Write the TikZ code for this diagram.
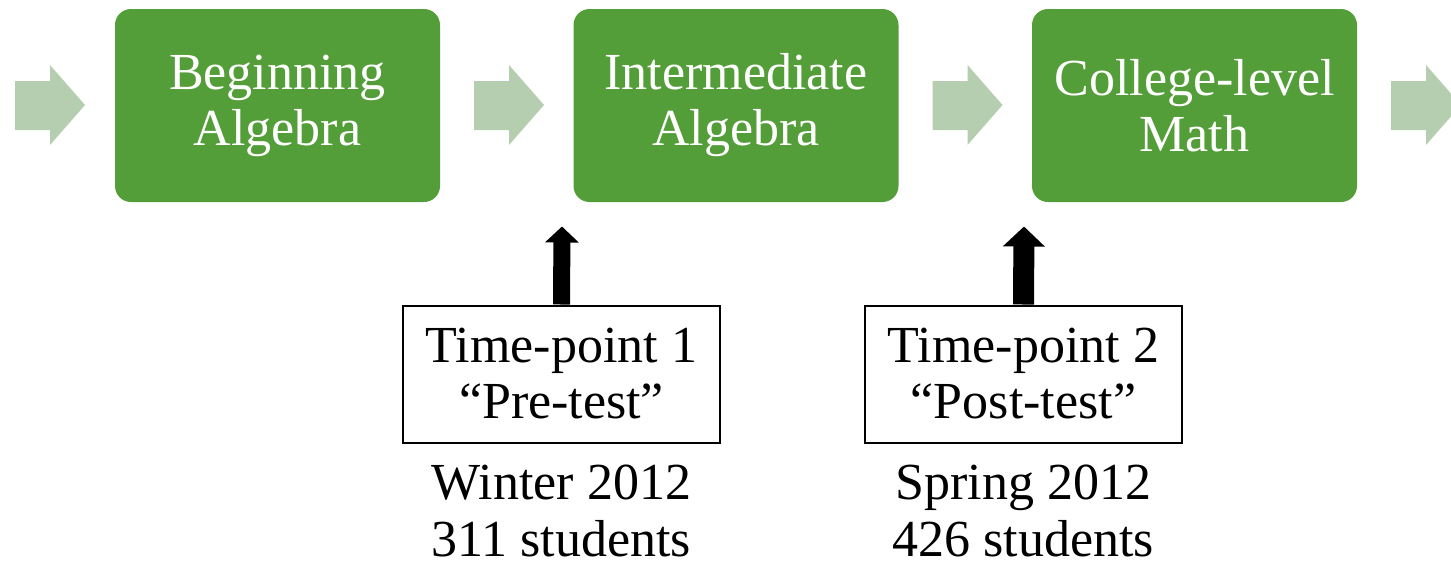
\documentclass[tikz,border=0pt]{standalone}
\usepackage{fontspec}
\setmainfont{Liberation Serif}
\usetikzlibrary{arrows.meta}
\definecolor{boxgreen}{RGB}{84,158,57}
\definecolor{lightgreen}{RGB}{181,206,176}
\tikzset{
  gbox/.style={fill=boxgreen, rounded corners=16pt, minimum width=325pt, minimum height=193pt,
    inner sep=0pt, align=center, text=white, font=\fontsize{52}{56}\selectfont},
  tbox/.style={draw=black, line width=2pt, minimum width=317pt, minimum height=137pt,
    inner sep=0pt, align=center, font=\fontsize{52}{56}\selectfont},
  plain/.style={inner sep=0pt, align=center, font=\fontsize{52}{57}\selectfont},
  chev/.style={fill=lightgreen},
}
\begin{document}
\begin{tikzpicture}[x=1pt,y=-1pt]
\clip (0,0) rectangle (1451,571);
% light green chevrons
\foreach \dx in {0,459,917.5,1376}{
  \fill[chev] (15+\dx,81) -- (50+\dx,81) -- (50+\dx,65) -- (85+\dx,105) -- (50+\dx,145) -- (50+\dx,130) -- (15+\dx,130) -- cycle;
}
% green boxes
\node[gbox] (b1) at (277.5,105.5) {Beginning\\Algebra};
\node[gbox] (b2) at (736,105.5) {Intermediate\\Algebra};
\node[gbox] (b3) at (1194.5,105.5) {College-level\\Math};
% time-point boxes
\node[tbox] (r1) at (561.5,374) {Time-point 1\\“Pre-test”};
\node[tbox] (r2) at (1023.5,374) {Time-point 2\\“Post-test”};
% labels
\node[plain] (l1) at (561.5,511) {Winter 2012\\311 students};
\node[plain] (l2) at (1023.5,511) {Spring 2012\\426 students};
% up arrows
\coordinate (t1) at (562,226.5);
\coordinate (t2) at (1024,226.5);
\draw[line width=17pt, -{Triangle[width=33pt,length=16pt]}] (r1.north) -- (t1);
\draw[line width=21pt, -{Triangle[width=41pt,length=20pt]}] (r2.north) -- (t2);
\end{tikzpicture}
\end{document}
